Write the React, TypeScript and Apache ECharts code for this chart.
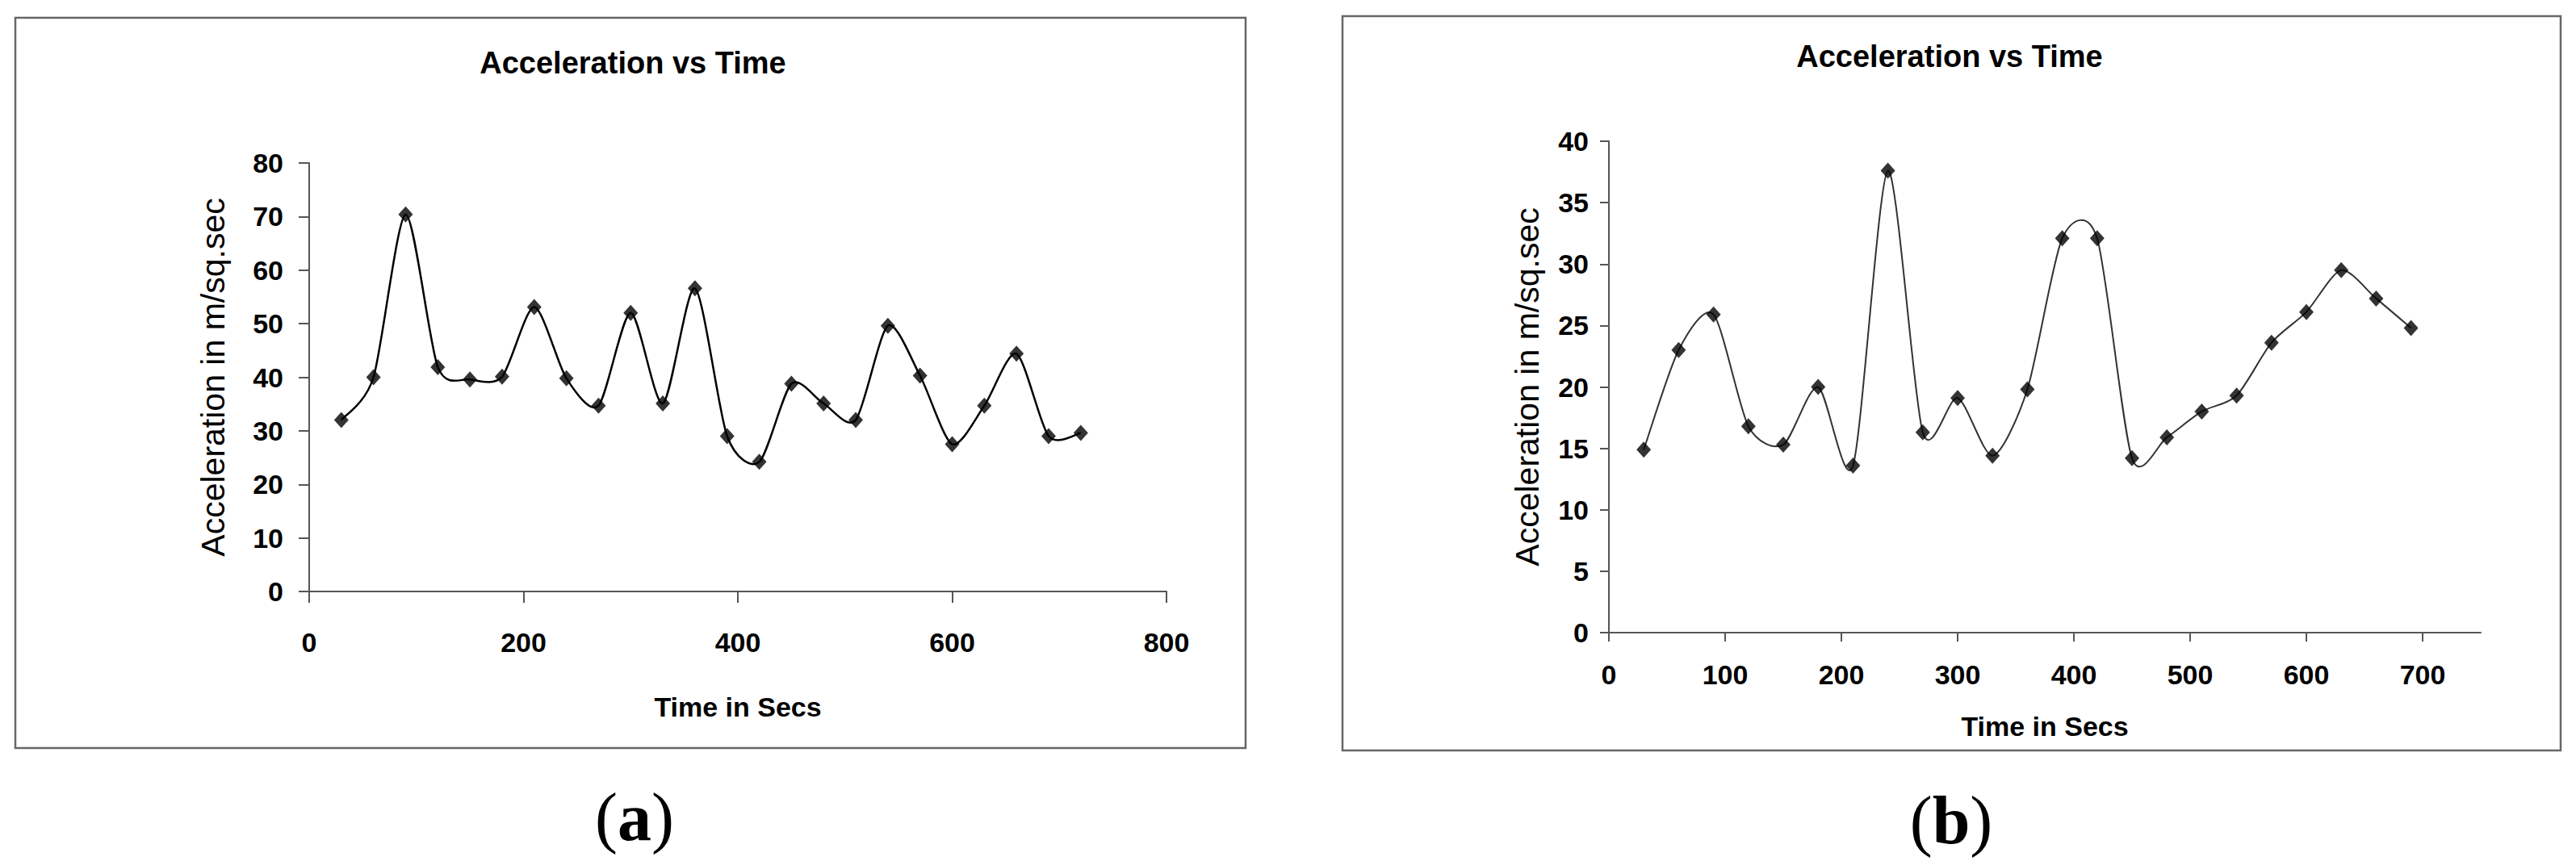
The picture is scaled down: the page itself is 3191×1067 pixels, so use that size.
import React, { useEffect, useRef } from 'react';
import * as echarts from 'echarts';

// ---- Data ----
const timesA = [30, 60, 90, 120, 150, 180, 210, 240, 270, 300, 330, 360, 390, 420, 450, 480, 510, 540, 570, 600, 630, 660, 690, 720];
const accelA = [32.0, 40.0, 70.4, 41.9, 39.6, 40.1, 53.1, 39.8, 34.7, 52.0, 35.1, 56.6, 29.0, 24.2, 38.8, 35.1, 32.0, 49.6, 40.3, 27.5, 34.7, 44.4, 29.0, 29.6];

const timesB = [30, 60, 90, 120, 150, 180, 210, 240, 270, 300, 330, 360, 390, 420, 450, 480, 510, 540, 570, 600, 630, 660, 690];
const accelB = [14.9, 23.0, 25.9, 16.8, 15.3, 20.0, 13.6, 37.6, 16.3, 19.1, 14.4, 19.8, 32.1, 32.1, 14.2, 15.9, 18.0, 19.3, 23.6, 26.1, 29.5, 27.2, 24.8];

const xTicksB = [0, 100, 200, 300, 400, 500, 600, 700];

const chartTitle = 'Acceleration vs Time';
const xName = 'Time in Secs';
const yName = 'Acceleration in m/sq.sec';
const captions = ['a', 'b'];

const SANS = "'Liberation Sans', Arial, sans-serif";
const SERIF = "'Liberation Serif', 'Times New Roman', serif";

// Excel-style smoothed line: each data item draws the bezier segment to the next point,
// with control points taken from the neighbouring points (positions via api.coord).
function splineRenderer(times: number[], vals: number[], color: string, width: number) {
  return (params: any, api: any) => {
    const i = params.dataIndex;
    const n = times.length;
    if (i >= n - 1) return null;
    const P = (k: number) => {
      const j = Math.max(0, Math.min(n - 1, k));
      return api.coord([times[j], vals[j]]);
    };
    const p0 = P(i - 1);
    const p1 = P(i);
    const p2 = P(i + 1);
    const p3 = P(i + 2);
    const t = 0.13;
    return {
      type: 'bezierCurve',
      shape: {
        x1: p1[0],
        y1: p1[1],
        x2: p2[0],
        y2: p2[1],
        cpx1: p1[0] + (p2[0] - p0[0]) * t,
        cpy1: p1[1] + (p2[1] - p0[1]) * t,
        cpx2: p2[0] - (p3[0] - p1[0]) * t,
        cpy2: p2[1] - (p3[1] - p1[1]) * t,
      },
      style: { stroke: color, lineWidth: width, fill: null },
    };
  };
}

export default function App() {
  const ref = useRef<HTMLDivElement>(null);

  useEffect(() => {
    if (!ref.current) return;
    const chart = echarts.init(ref.current, null, { renderer: 'svg', width: 3191, height: 1067 });

    const axisLine = { color: '#555', width: 2 };
    const tickFont = { fontFamily: SANS, fontWeight: 'bold' as const, fontSize: 34, color: '#000' };
    const xNameFont = { fontFamily: SANS, fontWeight: 'bold' as const, fontSize: 34, color: '#000' };
    const yNameFont = { fontFamily: SANS, fontWeight: 'normal' as const, fontSize: 41, color: '#000' };

    const frame = (x: number, y: number, w: number, h: number) => ({
      type: 'rect',
      shape: { x, y, width: w, height: h },
      style: { fill: 'none', stroke: '#666', lineWidth: 2.5 },
      silent: true,
    });
    const titleText = (x: number, y: number) => ({
      type: 'text',
      x,
      y,
      style: {
        text: chartTitle,
        fontFamily: SANS,
        fontWeight: 'bold',
        fontSize: 38,
        fill: '#000',
        align: 'center',
        verticalAlign: 'middle',
      },
      silent: true,
    });
    const caption = (x: number, y: number, letter: string) => ({
      type: 'text',
      x,
      y,
      style: {
        text: '{p|(}{b|' + letter + '}{p|)}',
        rich: {
          p: { fontFamily: SERIF, fontSize: 84, fill: '#000' },
          b: { fontFamily: SERIF, fontSize: 84, fontWeight: 'bold', fill: '#000' },
        },
        align: 'center',
        verticalAlign: 'middle',
      },
      silent: true,
    });

    const dataA = timesA.map((t, i) => [t, accelA[i]]);
    const dataB = timesB.map((t, i) => [t, accelB[i]]);

    const option: any = {
      animation: false,
      backgroundColor: '#fff',
      grid: [
        { left: 383, top: 202, width: 1062, height: 531 },
        { left: 1993, top: 175, width: 1080, height: 609 },
      ],
      xAxis: [
        {
          gridIndex: 0,
          type: 'value',
          min: 0,
          max: 800,
          interval: 200,
          axisLine: { show: true, onZero: false, lineStyle: axisLine },
          axisTick: { show: true, length: 14, lineStyle: axisLine },
          axisLabel: { ...tickFont, margin: 46 },
          splitLine: { show: false },
          name: xName,
          nameLocation: 'middle',
          nameGap: 126,
          nameTextStyle: xNameFont,
        },
        {
          gridIndex: 1,
          type: 'value',
          min: 0,
          max: 750,
          interval: 100,
          axisLine: { show: true, onZero: false, lineStyle: axisLine },
          axisTick: { show: true, length: 11, lineStyle: axisLine, customValues: xTicksB },
          axisLabel: { ...tickFont, margin: 35, customValues: xTicksB },
          splitLine: { show: false },
          name: xName,
          nameLocation: 'middle',
          nameGap: 99,
          nameTextStyle: xNameFont,
        },
      ],
      yAxis: [
        {
          gridIndex: 0,
          type: 'value',
          min: 0,
          max: 80,
          interval: 10,
          axisLine: { show: true, onZero: false, lineStyle: axisLine },
          axisTick: { show: true, length: 13, lineStyle: axisLine },
          axisLabel: { ...tickFont, margin: 32 },
          splitLine: { show: false },
          name: yName,
          nameLocation: 'middle',
          nameGap: 99,
          nameTextStyle: yNameFont,
        },
        {
          gridIndex: 1,
          type: 'value',
          min: 0,
          max: 40,
          interval: 5,
          axisLine: { show: true, onZero: false, lineStyle: axisLine },
          axisTick: { show: true, length: 11, lineStyle: axisLine },
          axisLabel: { ...tickFont, margin: 25 },
          splitLine: { show: false },
          name: yName,
          nameLocation: 'middle',
          nameGap: 81,
          nameTextStyle: yNameFont,
        },
      ],
      series: [
        {
          type: 'custom',
          xAxisIndex: 0,
          yAxisIndex: 0,
          data: dataA,
          encode: { x: 0, y: 1 },
          renderItem: splineRenderer(timesA, accelA, '#000', 2.5),
          z: 2,
          silent: true,
        },
        {
          type: 'scatter',
          xAxisIndex: 0,
          yAxisIndex: 0,
          data: dataA,
          symbol: 'diamond',
          symbolSize: [18, 20],
          itemStyle: { color: '#000' },
          z: 3,
        },
        {
          type: 'custom',
          xAxisIndex: 1,
          yAxisIndex: 1,
          data: dataB,
          encode: { x: 0, y: 1 },
          renderItem: splineRenderer(timesB, accelB, '#333', 2),
          z: 2,
          silent: true,
        },
        {
          type: 'scatter',
          xAxisIndex: 1,
          yAxisIndex: 1,
          data: dataB,
          symbol: 'diamond',
          symbolSize: [18, 20],
          itemStyle: { color: '#000' },
          z: 3,
        },
      ],
      graphic: [
        frame(19, 22, 1524, 905),
        frame(1663, 20, 1509, 910),
        titleText(784, 78),
        titleText(2415, 70),
        caption(786, 1012, captions[0]),
        caption(2417, 1016, captions[1]),
      ],
    };

    chart.setOption(option);
    return () => chart.dispose();
  }, []);

  return (
    <div
      ref={ref}
      style={{ position: 'fixed', left: 0, top: 0, width: 3191, height: 1067, background: '#fff' }}
    />
  );
}
